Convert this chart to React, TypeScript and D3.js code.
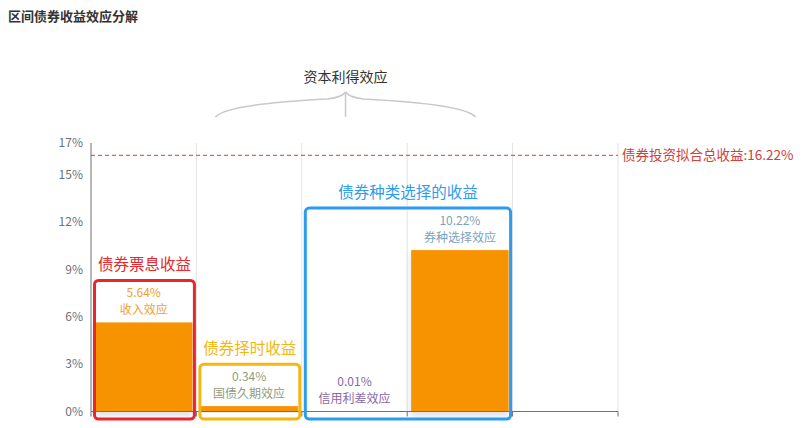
import React from 'react';
import * as d3 from 'd3';

const categories = ['收入效应', '国债久期效应', '信用利差效应', '券种选择效应', ''];
const values = [5.64, 0.34, 0.01, 10.22, null];
const labelColors = ['#f0a033', '#939c7d', '#8768a6', '#79a3bc', '#999'];
const yTicks = [0, 3, 6, 9, 12, 15, 17];

const totalValue = 16.22;
const totalLabel = '债券投资拟合总收益:16.22%';

// annotation boxes: which categories they wrap
const boxTitles = ['债券票息收益', '债券择时收益', '债券种类选择的收益'];
const boxMembers = [[0], [1], [2, 3]];
const boxColors = ['#e8262b', '#f5b612', '#2b9cef'];

const braceTitle = '资本利得效应';
const braceMembers = [1, 3];

const FONT = '"Noto Sans CJK SC", "Microsoft YaHei", sans-serif';

export default function App() {
  const width = 806;
  const height = 428;
  const left = 91;
  const right = 618;
  const top = 143;
  const bottom = 411.5;

  const x = d3.scaleBand<string>()
    .domain(categories.map((c, i) => `${i}`))
    .range([left, right])
    .paddingInner(0)
    .paddingOuter(0);
  const y = d3.scaleLinear().domain([0, 17]).range([bottom, top]);
  const bw = x.bandwidth();
  const barW = bw * 0.925;

  const boundaries = d3.range(categories.length + 1).map(i => left + i * bw);

  // brace geometry
  const bL = (x(`${braceMembers[0]}`) as number) + bw * 0.18;
  const bR = (x(`${braceMembers[1]}`) as number) + bw * 0.65;
  const bM = (bL + bR) / 2;
  const bTop = 92;
  const bBot = 117;
  const bracePath = `M${bL},${bBot} Q${bL + 12},${bTop + 12} ${bM - 18},${bTop + 7} Q${bM - 3},${bTop + 5} ${bM},${bTop}`
    + ` M${bR},${bBot} Q${bR - 12},${bTop + 12} ${bM + 18},${bTop + 7} Q${bM + 3},${bTop + 5} ${bM},${bTop}`;

  return (
    <svg width={width} height={height} style={{ position: 'absolute', left: 0, top: 0, background: '#fff' }}>
      <defs>
        <filter id="barShadow" x="-20%" y="-20%" width="140%" height="140%">
          <feDropShadow dx="0" dy="4" stdDeviation="3" floodColor="#2a3f7a" floodOpacity="0.18" />
        </filter>
      </defs>

      <text x={8} y={21} fontFamily={FONT} fontSize={13} fontWeight="bold" fill="#333">区间债券收益效应分解</text>

      {/* brace */}
      <text x={bM} y={82} textAnchor="middle" fontFamily={FONT} fontSize={14} fill="#333">{braceTitle}</text>
      <path d={bracePath} fill="none" stroke="#c8c8c8" strokeWidth={1.5} />
      <line x1={bM} x2={bM} y1={bTop} y2={bBot} stroke="#c8c8c8" strokeWidth={1.5} />

      {/* vertical split lines */}
      {boundaries.slice(1).map((bx, i) => (
        <line key={i} x1={bx} x2={bx} y1={top} y2={bottom} stroke="#e3e3e3" strokeWidth={1} />
      ))}

      {/* y axis */}
      <line x1={left} x2={left} y1={top} y2={bottom} stroke="#6e7079" strokeWidth={1} />
      {yTicks.map(t => (
        <text key={t} x={83} y={y(t)} dy="0.35em" textAnchor="end" fontFamily={FONT} fontSize={12} fill="#6e7079">{t}%</text>
      ))}

      {/* bars */}
      {values.map((v, i) => v == null ? null : (
        <rect key={i}
          x={(x(`${i}`) as number) + (bw - barW) / 2}
          y={y(v)}
          width={barW}
          height={bottom - y(v)}
          fill="#f89300"
          filter="url(#barShadow)" />
      ))}

      {/* x axis */}
      <line x1={left} x2={right} y1={bottom} y2={bottom} stroke="#6e7079" strokeWidth={1} />
      {boundaries.map((bx, i) => (
        <line key={i} x1={bx} x2={bx} y1={bottom} y2={bottom + 5} stroke="#6e7079" strokeWidth={1} />
      ))}

      {/* bar labels */}
      {values.map((v, i) => v == null ? null : (
        <g key={i} fontFamily={FONT} fontSize={12} fill={labelColors[i]} textAnchor="middle">
          <text x={(x(`${i}`) as number) + bw / 2} y={y(v) - 25}>{v.toFixed(2)}%</text>
          <text x={(x(`${i}`) as number) + bw / 2} y={y(v) - 8}>{categories[i]}</text>
        </g>
      ))}

      {/* total dashed line */}
      <line x1={left} x2={right} y1={y(totalValue)} y2={y(totalValue)} stroke="#d0403c" strokeWidth={1} strokeDasharray="4,3" />
      <text x={right + 4} y={y(totalValue)} dy="0.35em" fontFamily={FONT} fontSize={13.5} fill="#d0403c">{totalLabel}</text>

      {/* annotation boxes */}
      {boxMembers.map((members, k) => {
        const x0 = (x(`${members[0]}`) as number) + 3.5;
        const x1 = (x(`${members[members.length - 1]}`) as number) + bw - 2;
        const maxV = d3.max(members, m => values[m] as number) as number;
        const yT = y(maxV) - 42;
        const yB = bottom + 7.5;
        return (
          <g key={k}>
            <rect x={x0} y={yT} width={x1 - x0} height={yB - yT} rx={4} ry={4}
              fill="none" stroke={boxColors[k]} strokeWidth={3} />
            <text x={(x0 + x1) / 2} y={yT - 10} textAnchor="middle" fontFamily={FONT} fontSize={15.5} fill={boxColors[k]}>{boxTitles[k]}</text>
          </g>
        );
      })}
    </svg>
  );
}
